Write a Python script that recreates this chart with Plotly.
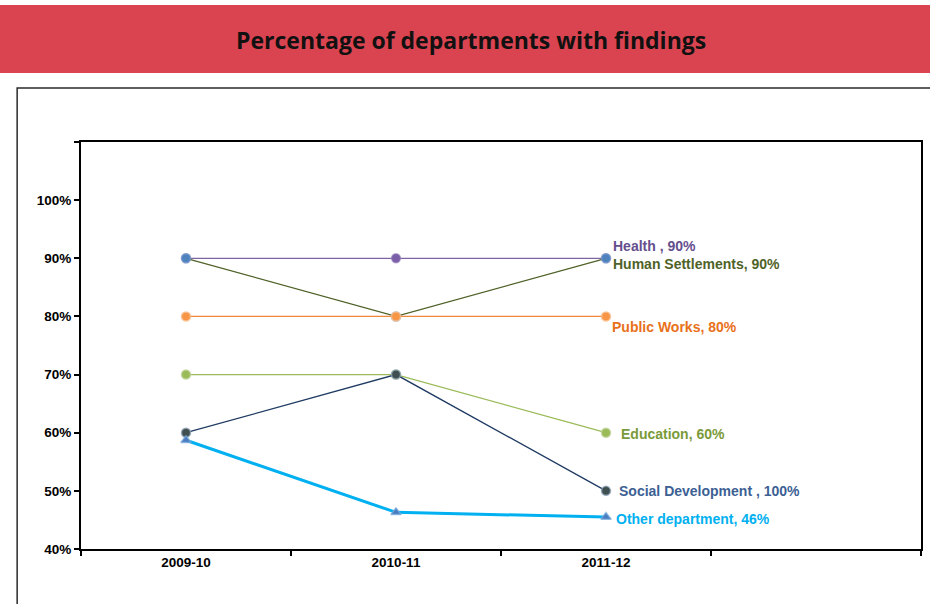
import plotly.graph_objects as go

# ---- data ----
years = ["2009-10", "2010-11", "2011-12"]
series_names = ["Health", "Human Settlements", "Public Works", "Education",
                "Social Development", "Other department"]
health = [0.90, 0.90, 0.90]
human_settlements = [0.90, 0.80, 0.90]
public_works = [0.80, 0.80, 0.80]
education = [0.70, 0.70, 0.60]
social_development = [0.60, 0.70, 0.50]
other_department = [0.587, 0.463, 0.455]
end_labels = ["Health , 90%", "Human Settlements, 90%", "Public Works, 80%",
              "Education, 60%", "Social Development , 100%", "Other department, 46%"]
y_tick_vals = [0.4, 0.5, 0.6, 0.7, 0.8, 0.9, 1.0, 1.1]
y_tick_text = ["40%", "50%", "60%", "70%", "80%", "90%", "100%", ""]
title_text = "Percentage of departments with findings"

# ---- styles ----
W, H = 930, 604
L, R, T, B = 81, 923, 142, 549
line_colors = ["#8064a2", "#4f6228", "#f0883a", "#9bbb59", "#1f3b63", "#00b0f0"]
line_widths = [1.3, 1.3, 1.3, 1.3, 1.3, 3]
marker_colors = ["#7b5ea8", "#4f81bd", "#f79646", "#9bbb59", "#3f4f4f", "#4a7cc0"]
marker_lines = ["rgba(150,130,190,0.6)", "rgba(120,160,210,0.7)", "rgba(250,190,140,0.8)",
                "rgba(190,210,150,0.8)", "rgba(140,160,180,0.8)", "rgba(120,170,220,0.7)"]
marker_symbols = ["circle"] * 5 + ["triangle-up"]
label_colors = ["#654e8e", "#4f6228", "#e8711a", "#7a9a3a", "#3c5f94", "#00b0f0"]
label_shift = [(5, 12), (5, -6), (4, -11), (13, -1), (11, 0), (8, -2)]

all_series = [health, human_settlements, public_works, education,
              social_development, other_department]

xs = list(range(len(years)))

fig = go.Figure()
for i, vals in enumerate(all_series):
    fig.add_trace(go.Scatter(
        x=xs, y=vals, mode="lines+markers", name=series_names[i],
        line=dict(color=line_colors[i], width=line_widths[i]),
        marker=dict(color=marker_colors[i], symbol=marker_symbols[i], size=9,
                    line=dict(color=marker_lines[i], width=1.5)),
        showlegend=False, hoverinfo="skip"))
    fig.add_annotation(x=xs[-1], y=vals[-1], xref="x", yref="y", text=end_labels[i],
                       showarrow=False, xanchor="left", yanchor="middle",
                       xshift=label_shift[i][0], yshift=label_shift[i][1],
                       font=dict(family="Liberation Sans, Arial", size=14,
                                 color=label_colors[i], weight="bold"))


def px(x):
    return (x - L) / (R - L)


def py(y):
    return (B - y) / (B - T)


# banner
fig.add_shape(type="rect", xref="paper", yref="paper", x0=px(-5), x1=px(940),
              y0=py(73), y1=py(5), fillcolor="#da4450", line=dict(width=0), layer="below")
fig.add_annotation(xref="paper", yref="paper", x=px(472), y=py(40), text=title_text,
                   showarrow=False, xanchor="center", yanchor="middle",
                   font=dict(family="Open Sans", size=23, color="#111111", weight="bold"))
# outer frame
fig.add_shape(type="path", xref="paper", yref="paper",
              path=f"M {px(17)} {py(620)} L {px(17)} {py(88)} L {px(945)} {py(88)}",
              line=dict(color="#2a2a2a", width=1.5))

tick_font = dict(family="Liberation Sans, Arial", size=13.5, color="black", weight="bold")

fig.update_layout(
    width=W, height=H, autosize=False,
    margin=dict(l=L, r=W - R, t=T, b=H - B),
    paper_bgcolor="white", plot_bgcolor="white",
    xaxis=dict(range=[-0.5, 3.5], tickvals=xs, ticktext=years, ticks="",
               showgrid=False, zeroline=False, showline=True, linecolor="black",
               linewidth=2, mirror=True, tickfont=tick_font,
               minor=dict(tick0=-0.5, dtick=1, ticks="outside", ticklen=5,
                          tickwidth=1.5, tickcolor="black", showgrid=False)),
    yaxis=dict(range=[0.4, 1.1], tickvals=y_tick_vals, ticktext=y_tick_text,
               ticks="outside", ticklen=5, tickwidth=1.5, tickcolor="black",
               showgrid=False, zeroline=False, showline=True, linecolor="black",
               linewidth=2, mirror=True, tickfont=tick_font),
)

fig.write_html("out.html")
